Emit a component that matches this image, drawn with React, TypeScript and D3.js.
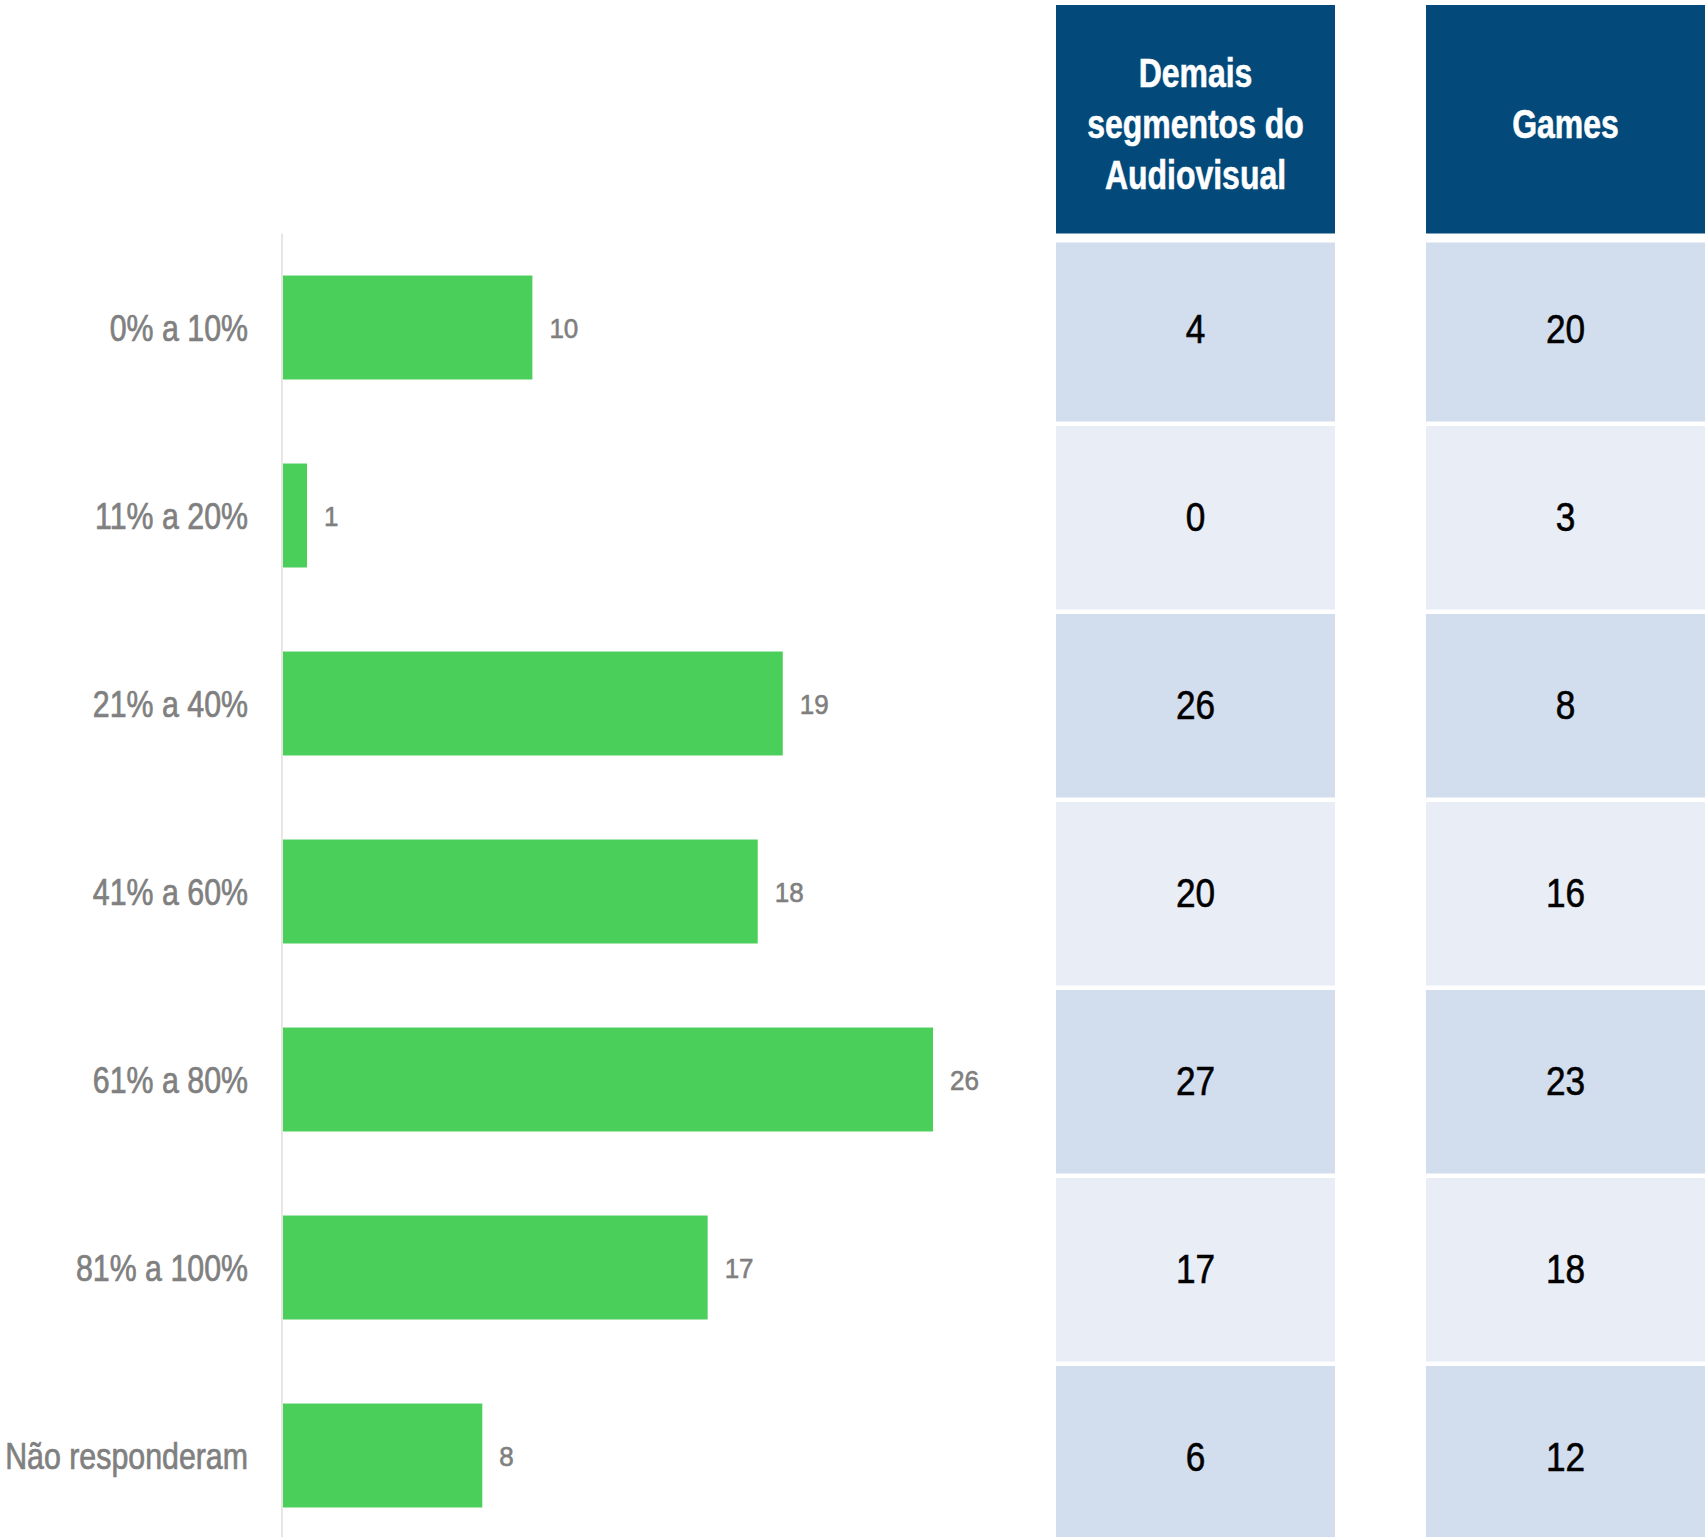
import React from "react";
import * as d3 from "d3";

// ---- data ----
const categories = [
  "0% a 10%",
  "11% a 20%",
  "21% a 40%",
  "41% a 60%",
  "61% a 80%",
  "81% a 100%",
  "Não responderam",
];
// bar lengths as drawn in the picture
const barValues = [10, 1, 20, 19, 26, 17, 8];
// value labels printed at the bar ends
const barLabels = [10, 1, 19, 18, 26, 17, 8];

const tableColumns = ["Demais segmentos do Audiovisual", "Games"];
const tableHeaderLines = [["Demais", "segmentos do", "Audiovisual"], ["Games"]];
const demaisValues = [4, 0, 26, 20, 27, 17, 6];
const gamesValues = [20, 3, 8, 16, 23, 18, 12];

// ---- layout ----
const W = 1705;
const H = 1537;
const FONT = "'Liberation Sans', Arial, sans-serif";

export default function App() {
  const x = d3.scaleLinear().domain([0, 26]).range([282, 933]);
  const y = d3
    .scaleBand<string>()
    .domain(categories)
    .range([233.5, 233.5 + 188 * categories.length])
    .paddingInner(0.447)
    .paddingOuter(0.2235);
  const step = y.step();
  const rowStart = 233.5;

  const col = d3
    .scaleBand<string>()
    .domain(tableColumns)
    .range([1056, 1705])
    .paddingInner(0.246)
    .paddingOuter(0);

  const tableData = [demaisValues, gamesValues];
  const rowColors = ["#D2DDEE", "#E8EDF6"];

  return (
    <svg
      width={W}
      height={H}
      viewBox={`0 0 ${W} ${H}`}
      style={{ position: "absolute", left: 0, top: 0, background: "#fff" }}
      fontFamily={FONT}
    >
      <rect x={0} y={0} width={W} height={H} fill="#ffffff" />

      {/* axis line */}
      <line x1={x(0)} x2={x(0)} y1={rowStart} y2={H} stroke="#DEDEDE" strokeWidth={1.5} />

      {/* bars */}
      {categories.map((c, i) => (
        <g key={c}>
          <rect
            x={x(0) + 1}
            y={y(c)}
            width={x(barValues[i]) - x(0) - 1}
            height={y.bandwidth()}
            fill="#4BCF5B"
          />
          <text
            transform={`translate(${x(barValues[i]) + 17},${(y(c) as number) + y.bandwidth() / 2}) scale(0.93,1)`}
            dy="0.36em"
            fontSize={28}
            fill="#7F7F7F"
            stroke="#7F7F7F"
            strokeWidth={0.6}
          >
            {barLabels[i]}
          </text>
          <text
            transform={`translate(248,${(y(c) as number) + y.bandwidth() / 2}) scale(0.82,1)`}
            dy="0.36em"
            textAnchor="end"
            fontSize={37}
            fill="#808080"
            stroke="#808080"
            strokeWidth={0.7}
          >
            {c}
          </text>
        </g>
      ))}

      {/* table */}
      {tableColumns.map((tc, j) => {
        const cx = (col(tc) as number) + col.bandwidth() / 2;
        const lines = tableHeaderLines[j];
        const lh = 51.3;
        const headerTop = 5;
        const headerBottom = rowStart;
        const mid = (headerTop + headerBottom) / 2 + 4;
        return (
          <g key={tc}>
            <rect
              x={col(tc)}
              y={headerTop}
              width={col.bandwidth()}
              height={headerBottom - headerTop}
              fill="#034A7B"
            />
            {lines.map((ln, k) => (
              <text
                key={k}
                transform={`translate(${cx},${mid + (k - (lines.length - 1) / 2) * lh}) scale(0.78,1)`}
                dy="0.36em"
                textAnchor="middle"
                fontSize={41}
                fontWeight="bold"
                fill="#ffffff"
                stroke="#ffffff"
                strokeWidth={0.6}
              >
                {ln}
              </text>
            ))}
            {categories.map((c, i) => {
              const top = rowStart + i * step + (i === 0 ? 9 : 4.5);
              const bottom = Math.min(rowStart + (i + 1) * step, H + 20);
              return (
                <g key={c}>
                  <rect
                    x={col(tc)}
                    y={top}
                    width={col.bandwidth()}
                    height={bottom - top}
                    fill={rowColors[i % 2]}
                  />
                  <text
                    transform={`translate(${cx},${(y(c) as number) + y.bandwidth() / 2 + 1}) scale(0.88,1)`}
                    dy="0.36em"
                    textAnchor="middle"
                    fontSize={40}
                    fill="#000000"
                    stroke="#000000"
                    strokeWidth={0.6}
                  >
                    {tableData[j][i]}
                  </text>
                </g>
              );
            })}
          </g>
        );
      })}
    </svg>
  );
}
